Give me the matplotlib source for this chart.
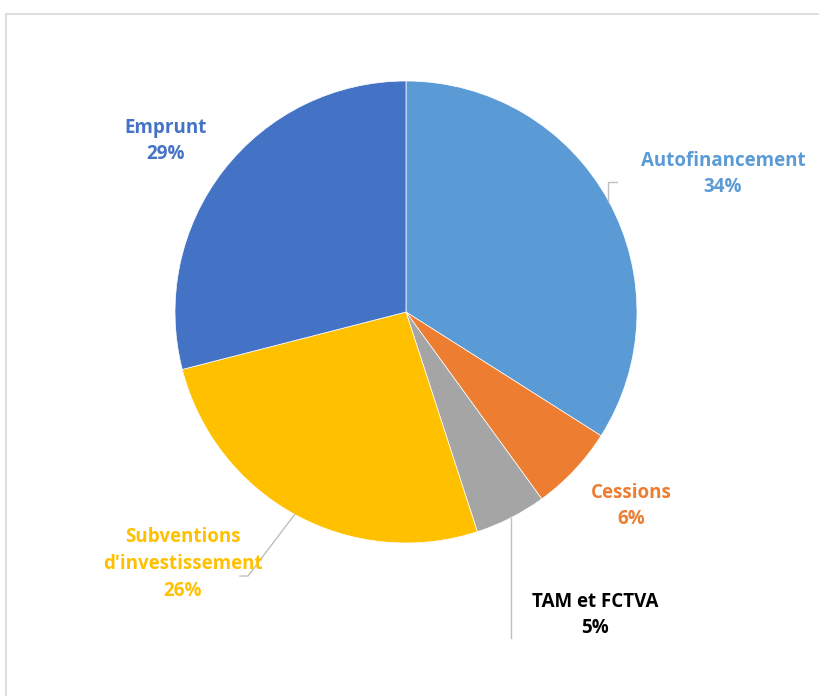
import matplotlib.pyplot as plt
import numpy as np

labels = ["Autofinancement", "Cessions", "TAM et FCTVA", "Subventions\nd'investissement", "Emprunt"]
values = [34, 6, 5, 26, 29]
colors = ["#5B9BD5", "#ED7D31", "#A5A5A5", "#FFC000", "#4472C4"]
text_colors = ["#5B9BD5", "#ED7D31", "#000000", "#FFC000", "#4472C4"]

W, H = 819, 696
fig = plt.figure(figsize=(W / 100, H / 100), dpi=100)
ax = fig.add_axes([0, 0, 1, 1])

cx, cy, r = 406, H - 312, 231
wedges, _ = ax.pie(values, colors=colors, startangle=90, counterclock=False,
                   center=(cx, cy), radius=r, normalize=True,
                   wedgeprops=dict(edgecolor="white", linewidth=0.5))

ax.set_xlim(0, W)
ax.set_ylim(0, H)
ax.set_aspect("equal")
ax.axis("off")

# chart frame (cropped on right and bottom)
ax.plot([6, 6], [0, H - 14], color="#D9D9D9", lw=1.2, clip_on=False)
ax.plot([6, W], [H - 14, H - 14], color="#D9D9D9", lw=1.2, clip_on=False)

# label centres (pixel coords, y from top) and leader elbows
label_pos = [(723, 174), (631, 506), (595, 615), (183, 564), (166, 141)]
elbows = [(617, 182), None, (512, 638), (240, 576), None]

for i, w in enumerate(wedges):
    lx, ly = label_pos[i]
    pct = f"{values[i]}%"
    ax.text(lx, H - ly, labels[i] + "\n" + pct, ha="center", va="center",
            color=text_colors[i], fontsize=13.5, fontweight="bold",
            family="Open Sans", linespacing=1.45)
    if elbows[i] is not None:
        ang = np.deg2rad((w.theta1 + w.theta2) / 2)
        px = cx + r * np.cos(ang)
        py = cy + r * np.sin(ang)
        ex, ey = elbows[i]
        ey = H - ey
        if i == 0:
            xs, ys = [px, px, ex], [py, ey, ey]
        elif i == 2:
            xs, ys = [px, px], [py, ey]
        else:
            xs, ys = [px, ex + 8, ex], [py, ey, ey]
        ax.plot(xs, ys, color="#BFBFBF", lw=1)

fig.savefig("out.png", dpi=100)
